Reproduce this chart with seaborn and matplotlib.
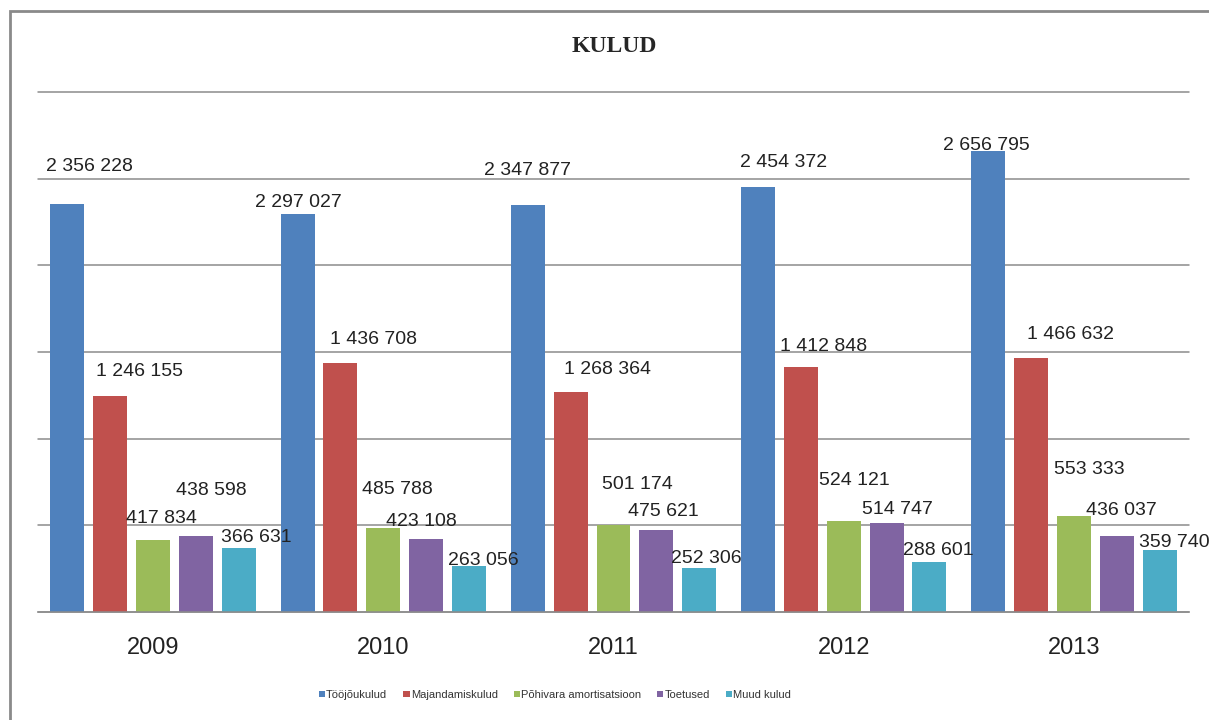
import matplotlib
matplotlib.use("Agg")
import matplotlib.pyplot as plt
import seaborn as sns
import pandas as pd
from matplotlib.patches import Rectangle

# ---- data ----
years = ["2009", "2010", "2011", "2012", "2013"]
series = ["Tööjõukulud", "Majandamiskulud", "Põhivara amortisatsioon", "Toetused", "Muud kulud"]
toojou = [2356228, 2297027, 2347877, 2454372, 2656795]
majandamis = [1246155, 1436708, 1268364, 1412848, 1466632]
pohivara = [417834, 485788, 501174, 524121, 553333]
toetused = [438598, 423108, 475621, 514747, 436037]
muud = [366631, 263056, 252306, 288601, 359740]
colors = ["#4F81BD", "#C0504D", "#9BBB59", "#8064A2", "#4BACC6"]

# label offsets in pixels (dx, dy) relative to bar top centre -- layout only
label_dx = [[21.5, 1, 0, 25.5, -1.5],
            [29.5, 33, 36.5, 23, 39],
            [8, 14.5, 23.5, 11, 15],
            [15.5, -4.5, 7, 11, 5],
            [18, 14.5, 7, 8.5, 14.5]]
label_dy = [[37, 11, 34.5, 24, 5.5],
            [24, 23.5, 22.5, 21, 23],
            [21.5, 38.5, 40.5, 41, 47],
            [45.5, 17.5, 18.5, 13.5, 26],
            [11, 6, 9.5, 11.5, 7.5]]

values = [toojou, majandamis, pohivara, toetused, muud]
rows = []
for s, vals in zip(series, values):
    for y, v in zip(years, vals):
        rows.append({"Aasta": y, "Kulu": s, "Summa": v})
df = pd.DataFrame(rows)

sns.set_style("white")
plt.rcParams["font.family"] = ["Liberation Sans", "DejaVu Sans"]

fig = plt.figure(figsize=(12.09, 7.2), dpi=100)
ax = fig.add_axes([38 / 1209, 1 - 612 / 720, (1189 - 38) / 1209, (612 - 92) / 720])

sns.barplot(data=df, x="Aasta", y="Summa", hue="Kulu", hue_order=series, order=years,
            palette=colors, width=0.93, gap=0.206, ax=ax, legend=True,
            linewidth=0, edgecolor="none", saturation=1)

ax.set_ylim(0, 3000000)
ax.set_xlim(-0.5, 4.5)
ax.set_yticks([0, 500000, 1000000, 1500000, 2000000, 2500000, 3000000])
ax.set_yticklabels([])
ax.tick_params(axis="y", length=0)
ax.tick_params(axis="x", length=0, labelsize=17, pad=18, colors="#222222")
ax.yaxis.grid(True, color="#8c8c8c", linewidth=1.1)
for gl in ax.get_ygridlines():
    gl.set_clip_on(False)
ax.set_axisbelow(True)
for sp in ["top", "right", "left"]:
    ax.spines[sp].set_visible(False)
ax.spines["bottom"].set_color("#8c8c8c")
ax.spines["bottom"].set_linewidth(1.1)
ax.set_xlabel("")
ax.set_ylabel("")

# data labels
for si, cont in enumerate(ax.containers):
    for yi, bar in enumerate(cont):
        v = values[si][yi]
        txt = f"{v:,}".replace(",", " ")
        ax.annotate(txt, (bar.get_x() + bar.get_width() / 2, bar.get_height()),
                    xytext=(label_dx[si][yi], label_dy[si][yi]), textcoords="offset pixels",
                    ha="center", va="center", fontsize=14, color="#222222")

# legend
h, l = ax.get_legend_handles_labels()
ax.get_legend().remove()
fig.legend(h, l, loc="center", bbox_to_anchor=(555 / 1209, 1 - 695 / 720), ncol=5,
           frameon=False, fontsize=8, handlelength=0.55, handleheight=0.55,
           handletextpad=0.1, columnspacing=1.45, labelcolor="#333333")

# title
fig.text(614 / 1209, 1 - 47 / 720, "KULUD", ha="center", va="center",
         fontsize=17, fontweight="bold", family=["Liberation Serif", "DejaVu Serif"])

# chart frame (left and top edges)
fig.patches.append(Rectangle((10 / 1209, -0.1), 1.2, 1 - 11 / 720 + 0.1,
                             transform=fig.transFigure, fill=False,
                             edgecolor="#8a8a8a", linewidth=2))

fig.savefig("out.png", dpi=100)
